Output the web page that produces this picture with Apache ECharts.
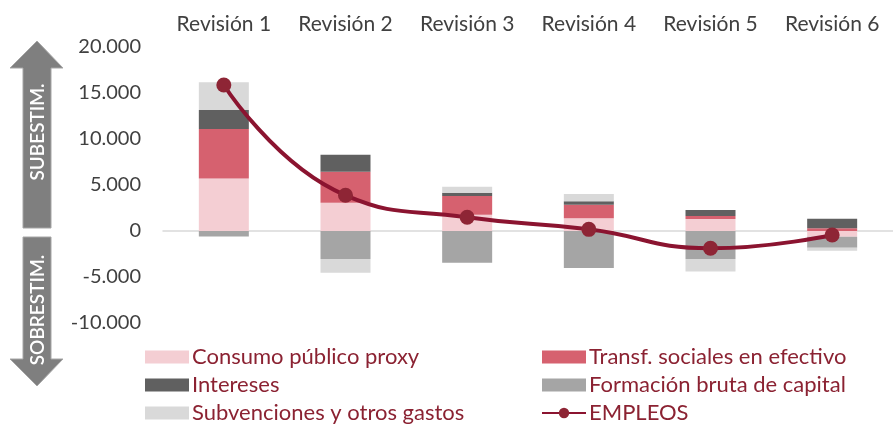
<!DOCTYPE html>
<html style="height: 100%">
<head>
    <meta charset="utf-8">
</head>
<body style="height: 100%; margin: 0">
<div id="container" style="width: 893px; height: 425px"></div>
<script type="text/javascript" src="https://cdn.jsdelivr.net/npm/echarts@6/dist/echarts.min.js"></script>
<script type="text/javascript">
// categorias (eje superior)
var revisiones = ['Revisión 1', 'Revisión 2', 'Revisión 3', 'Revisión 4', 'Revisión 5', 'Revisión 6'];

// componentes (apilados)
var consumo = [5700, 3080, 1770, 1380, 1300, -620];
var transf = [5400, 3370, 2030, 1480, 330, 300];
var intereses = [2060, 1840, 360, 370, 650, 1020];
var formacion = [-600, -3040, -3440, -4020, -3040, -1200];
var subvenciones = [3010, -1490, 660, 790, -1350, -330];
// total
var empleos = [15870, 3880, 1490, 180, -1880, -430];

// eje y
var yMin = -10000, yMax = 20000, yStep = 5000;

var fontName = 'Lato';
var rojoTexto = '#8B2232';

function miles(v) {
    var s = String(Math.abs(v)).replace(/\B(?=(\d{3})+(?!\d))/g, '.');
    return (v < 0 ? '-' : '') + s;
}

var dom = document.getElementById('container');
var myChart = echarts.init(dom);

function barra(nombre, datos, color) {
    return {
        name: nombre,
        type: 'bar',
        stack: 'total',
        barWidth: 50,
        data: datos,
        itemStyle: {color: color},
        z: 2
    };
}

function leyenda(left, items) {
    return {
        orient: 'vertical',
        left: left,
        top: 346,
        height: 100,
        padding: 0,
        itemWidth: 44,
        itemHeight: 13,
        itemGap: 6,
        textStyle: {color: rojoTexto, fontSize: 22, fontFamily: fontName, padding: [0, 0, 0, -2]},
        data: items
    };
}

var option = {
    animation: false,
    textStyle: {fontFamily: fontName},
    grid: {left: 163, right: -14, top: 47, bottom: 102},
    legend: [
        leyenda(145, [
            {name: 'Consumo público proxy', icon: 'rect'},
            {name: 'Intereses', icon: 'rect'},
            {name: 'Subvenciones y otros gastos', icon: 'rect'}
        ]),
        leyenda(541, [
            {name: 'Transf. sociales en efectivo', icon: 'rect'},
            {name: 'Formación bruta de capital', icon: 'rect'},
            {name: 'EMPLEOS'}
        ])
    ],
    xAxis: [
        {
            type: 'category',
            position: 'top',
            data: revisiones,
            axisLine: {show: false, onZero: false},
            axisTick: {show: false},
            axisLabel: {color: '#404040', fontSize: 21, margin: 12, interval: 0}
        },
        {
            type: 'category',
            position: 'bottom',
            data: revisiones,
            axisLine: {show: true, onZero: true, lineStyle: {color: '#D9D9D9', width: 1.5}},
            axisTick: {show: false},
            axisLabel: {show: false}
        }
    ],
    yAxis: {
        type: 'value',
        min: yMin,
        max: yMax,
        interval: yStep,
        splitLine: {show: false},
        axisLine: {show: false},
        axisTick: {show: false},
        axisLabel: {color: '#404040', fontSize: 20, margin: 22, formatter: miles}
    },
    graphic: [
        {
            type: 'polygon',
            shape: {points: [[37, 41], [63, 68], [51, 68], [51, 228], [23, 228], [23, 68], [10, 68]]},
            style: {fill: '#7F7F7F', stroke: '#A6A6A6', lineWidth: 1}
        },
        {
            type: 'polygon',
            shape: {points: [[23, 237], [51, 237], [51, 359], [63, 359], [37, 386], [10, 359], [23, 359]]},
            style: {fill: '#7F7F7F', stroke: '#A6A6A6', lineWidth: 1}
        },
        {
            type: 'text',
            x: 38, y: 132,
            rotation: Math.PI / 2,
            style: {text: 'SUBESTIM.', fill: '#fff', font: '600 19px ' + fontName, align: 'center', verticalAlign: 'middle'}
        },
        {
            type: 'text',
            x: 38, y: 310,
            rotation: Math.PI / 2,
            style: {text: 'SOBRESTIM.', fill: '#fff', font: '600 19px ' + fontName, align: 'center', verticalAlign: 'middle'}
        }
    ],
    series: [
        barra('Consumo público proxy', consumo, '#F4CED3'),
        barra('Transf. sociales en efectivo', transf, '#D6616F'),
        barra('Intereses', intereses, '#606060'),
        barra('Formación bruta de capital', formacion, '#A5A5A5'),
        barra('Subvenciones y otros gastos', subvenciones, '#D9D9D9'),
        {
            name: 'EMPLEOS',
            type: 'line',
            smooth: true,
            data: empleos,
            symbol: 'circle',
            symbolSize: 15,
            lineStyle: {color: '#8B1430', width: 4},
            itemStyle: {color: '#8E2535'},
            z: 5
        }
    ]
};

myChart.setOption(option);
</script>
</body>
</html>
